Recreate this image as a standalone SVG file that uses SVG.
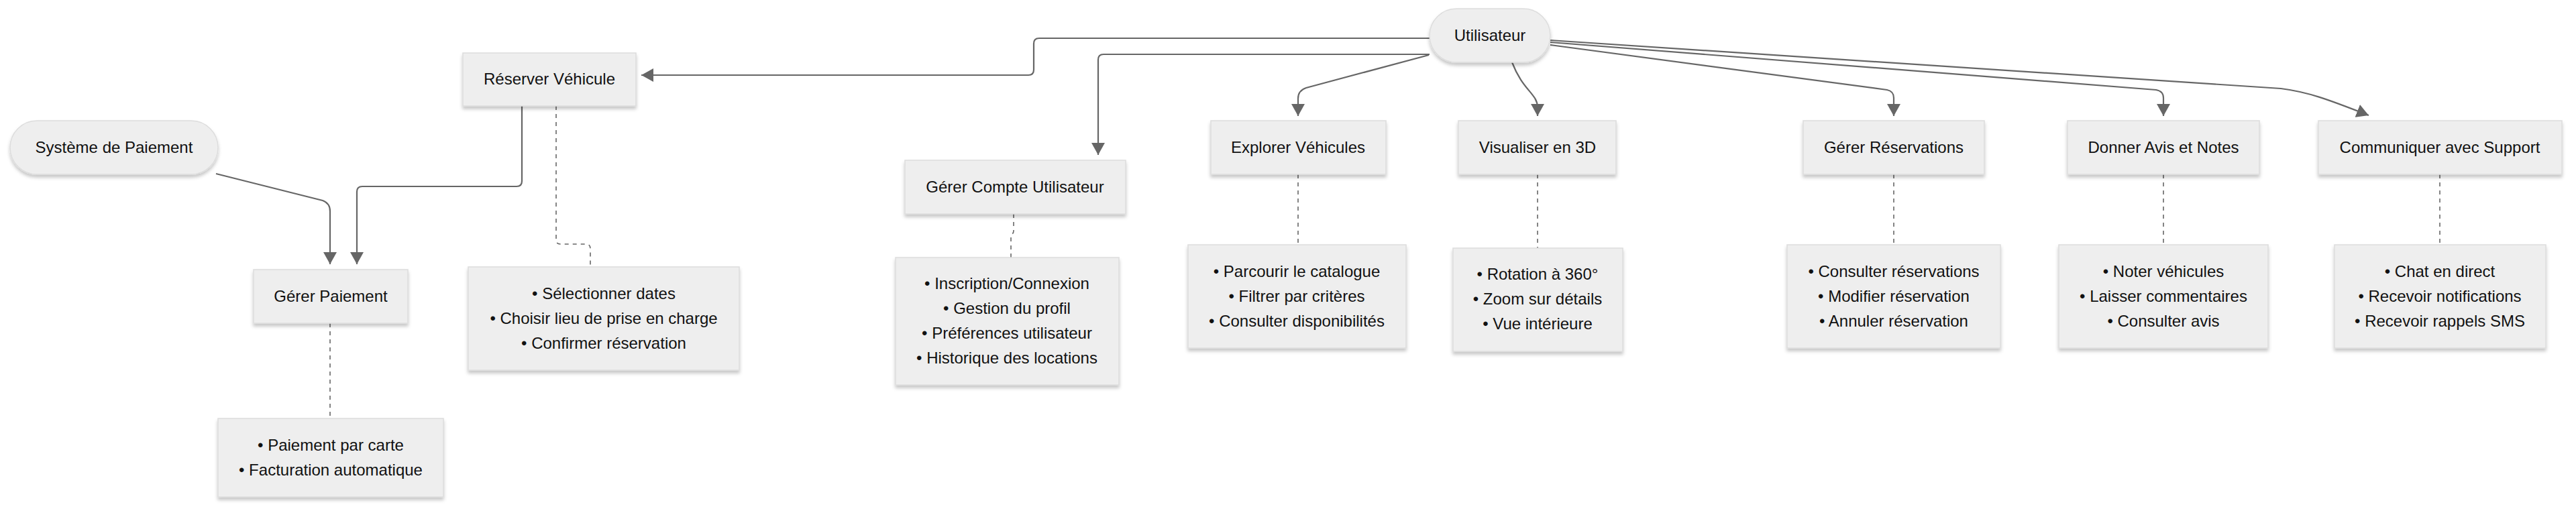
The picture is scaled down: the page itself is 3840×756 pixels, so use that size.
<svg xmlns="http://www.w3.org/2000/svg" width="3840" height="756" viewBox="0 0 3840 756">
<style>
.nd{fill:#eeeeee;stroke:#dddddd;stroke-width:1.5;filter:url(#sh)}
.t{font-family:"Liberation Sans",Arial,Helvetica,sans-serif;font-size:24px;fill:#111111;text-anchor:middle}
.c{fill:none;stroke:#666666;stroke-width:2.2}
.d{fill:none;stroke:#666666;stroke-width:1.6;stroke-dasharray:6 6}
</style>
<defs>
<filter id="sh" x="-10%" y="-10%" width="120%" height="130%">
<feDropShadow dx="0" dy="4" stdDeviation="2.5" flood-color="#000000" flood-opacity="0.22"/>
</filter>
<marker id="ah" markerUnits="userSpaceOnUse" markerWidth="18" markerHeight="20" refX="18" refY="10" orient="auto">
<path d="M0,0 L18,10 L0,20 z" fill="#666666"/>
</marker>
</defs>
<rect width="3840" height="756" fill="#ffffff"/>
<g id="connectors">
<path class="c" d="M2131,57 H1549 Q1541,57 1541,65 V104 Q1541,112 1533,112 H956" marker-end="url(#ah)"/>
<path class="c" d="M2131,81 H1645 Q1637,81 1637,89 V231" marker-end="url(#ah)"/>
<path class="c" d="M2130,82 L1947,131 Q1935,135 1935,147 V173" marker-end="url(#ah)"/>
<path class="c" d="M2254,93 C2270,135 2292,140 2292,160 V173" marker-end="url(#ah)"/>
<path class="c" d="M2311,67 L2813,134 Q2823,136 2823,146 V173" marker-end="url(#ah)"/>
<path class="c" d="M2311,63 L3214,134 Q3225,136 3225,146 V173" marker-end="url(#ah)"/>
<path class="c" d="M2311,60 L3400,132 C3440,137 3470,148 3531,172" marker-end="url(#ah)"/>
<path class="c" d="M322,259 L481,299 Q492,303 492,315 V394" marker-end="url(#ah)"/>
<path class="c" d="M778,158 V270 Q778,278 770,278 H540 Q532,278 532,286 V394" marker-end="url(#ah)"/>
<path class="d" d="M829,158 V358 Q829,364 836,364 H874 Q880,364 880,371 V398"/>
<path class="d" d="M492,482 V624"/>
<path class="d" d="M1511,319 V344 C1511,350 1507,348 1507,354 V384"/>
<path class="d" d="M1935,260 V365"/>
<path class="d" d="M2292,260 V370"/>
<path class="d" d="M2823,260 V365"/>
<path class="d" d="M3225,260 V365"/>
<path class="d" d="M3637,260 V365"/>
</g>
<g id="utilisateur">
<rect class="nd" x="2131" y="13" width="180" height="80" rx="40" ry="40"/>
<text class="t" x="2221" y="53" dy="0.35em">Utilisateur</text>
</g>
<g id="systeme-paiement">
<rect class="nd" x="15" y="180" width="310" height="80" rx="40" ry="40"/>
<text class="t" x="170" y="220" dy="0.35em">Système de Paiement</text>
</g>
<g id="reserver-vehicule">
<rect class="nd" x="690" y="79" width="258" height="79"/>
<text class="t" x="819" y="118" dy="0.35em">Réserver Véhicule</text>
</g>
<g id="reserver-details">
<rect class="nd" x="698" y="398" width="404" height="154"/>
<text class="t" x="900" y="438" dy="0.35em">• Sélectionner dates</text>
<text class="t" x="900" y="475" dy="0.35em">• Choisir lieu de prise en charge</text>
<text class="t" x="900" y="512" dy="0.35em">• Confirmer réservation</text>
</g>
<g id="gerer-paiement">
<rect class="nd" x="378" y="402" width="230" height="80"/>
<text class="t" x="493" y="442" dy="0.35em">Gérer Paiement</text>
</g>
<g id="paiement-details">
<rect class="nd" x="325" y="624" width="336" height="117"/>
<text class="t" x="493" y="664" dy="0.35em">• Paiement par carte</text>
<text class="t" x="493" y="701" dy="0.35em">• Facturation automatique</text>
</g>
<g id="gerer-compte">
<rect class="nd" x="1349" y="239" width="329" height="80"/>
<text class="t" x="1513" y="279" dy="0.35em">Gérer Compte Utilisateur</text>
</g>
<g id="compte-details">
<rect class="nd" x="1335" y="384" width="333" height="190"/>
<text class="t" x="1501" y="423" dy="0.35em">• Inscription/Connexion</text>
<text class="t" x="1501" y="460" dy="0.35em">• Gestion du profil</text>
<text class="t" x="1501" y="497" dy="0.35em">• Préférences utilisateur</text>
<text class="t" x="1501" y="534" dy="0.35em">• Historique des locations</text>
</g>
<g id="explorer-vehicules">
<rect class="nd" x="1805" y="180" width="261" height="80"/>
<text class="t" x="1935" y="220" dy="0.35em">Explorer Véhicules</text>
</g>
<g id="explorer-details">
<rect class="nd" x="1771" y="365" width="325" height="154"/>
<text class="t" x="1933" y="405" dy="0.35em">• Parcourir le catalogue</text>
<text class="t" x="1933" y="442" dy="0.35em">• Filtrer par critères</text>
<text class="t" x="1933" y="479" dy="0.35em">• Consulter disponibilités</text>
</g>
<g id="visualiser-3d">
<rect class="nd" x="2174" y="180" width="235" height="80"/>
<text class="t" x="2292" y="220" dy="0.35em">Visualiser en 3D</text>
</g>
<g id="visualiser-details">
<rect class="nd" x="2166" y="370" width="253" height="154"/>
<text class="t" x="2292" y="409" dy="0.35em">• Rotation à 360°</text>
<text class="t" x="2292" y="446" dy="0.35em">• Zoom sur détails</text>
<text class="t" x="2292" y="483" dy="0.35em">• Vue intérieure</text>
</g>
<g id="gerer-reservations">
<rect class="nd" x="2688" y="180" width="270" height="80"/>
<text class="t" x="2823" y="220" dy="0.35em">Gérer Réservations</text>
</g>
<g id="reservations-details">
<rect class="nd" x="2664" y="365" width="318" height="154"/>
<text class="t" x="2823" y="405" dy="0.35em">• Consulter réservations</text>
<text class="t" x="2823" y="442" dy="0.35em">• Modifier réservation</text>
<text class="t" x="2823" y="479" dy="0.35em">• Annuler réservation</text>
</g>
<g id="donner-avis">
<rect class="nd" x="3082" y="180" width="286" height="80"/>
<text class="t" x="3225" y="220" dy="0.35em">Donner Avis et Notes</text>
</g>
<g id="avis-details">
<rect class="nd" x="3069" y="365" width="312" height="154"/>
<text class="t" x="3225" y="405" dy="0.35em">• Noter véhicules</text>
<text class="t" x="3225" y="442" dy="0.35em">• Laisser commentaires</text>
<text class="t" x="3225" y="479" dy="0.35em">• Consulter avis</text>
</g>
<g id="communiquer-support">
<rect class="nd" x="3456" y="180" width="363" height="80"/>
<text class="t" x="3637" y="220" dy="0.35em">Communiquer avec Support</text>
</g>
<g id="support-details">
<rect class="nd" x="3480" y="365" width="315" height="154"/>
<text class="t" x="3637" y="405" dy="0.35em">• Chat en direct</text>
<text class="t" x="3637" y="442" dy="0.35em">• Recevoir notifications</text>
<text class="t" x="3637" y="479" dy="0.35em">• Recevoir rappels SMS</text>
</g>
</svg>
